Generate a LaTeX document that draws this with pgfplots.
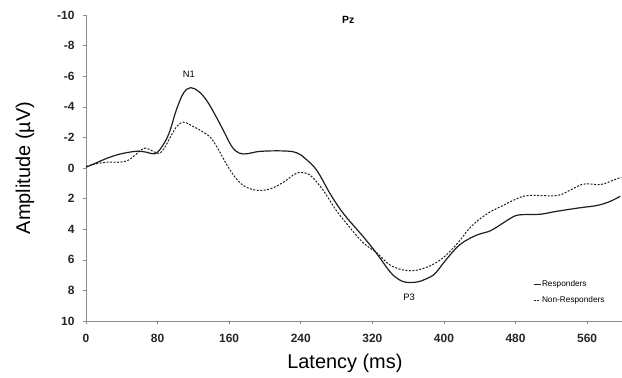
\documentclass[border=0pt]{standalone}
\usepackage{pgfplots}
\pgfplotsset{compat=1.18}
\usepackage{fontspec}
\setmainfont{Liberation Sans}
\definecolor{axisgray}{RGB}{140,140,140}
\definecolor{curve}{RGB}{30,30,30}
\begin{document}
\begin{tikzpicture}
\useasboundingbox (-86bp,-57bp) rectangle (536bp,321bp);
\begin{axis}[
  at={(0,0)}, anchor=south west,
  scale only axis, width=536bp, height=306bp,
  xmin=0, xmax=599, ymin=-10, ymax=10,
  y dir=reverse,
  axis x line*=bottom, axis y line*=left,
  axis line style={draw=axisgray, line width=0.8bp, -},
  xtick={0,80,...,560}, ytick={-10,-8,...,10},
  tick style={draw=axisgray, line width=0.6bp},
  tick align=outside, major tick length=3bp,
  /pgf/number format/assume math mode=true,
  ticklabel style={font=\fontsize{12}{14}\selectfont\bfseries, text=black!85},
  xticklabel style={anchor=center, yshift=-14bp},
  yticklabel style={anchor=east, xshift=-5bp},
  every axis x label/.style={at={(axis description cs:0.483,0)}, yshift=-42bp, anchor=center, font=\fontsize{20}{24}\selectfont},
  every axis y label/.style={at={(axis description cs:0,0.5)}, xshift=-61bp, rotate=90, anchor=center, font=\fontsize{20}{24}\selectfont},
  xlabel={Latency (ms)}, ylabel={Amplitude (µV)},
  legend style={draw=none, fill=none, at={(axis description cs:0.834,0.134)}, anchor=north west,
    font=\fontsize{8.3}{9}\selectfont, inner sep=0pt, row sep=7bp,
    nodes={inner sep=0.6bp}},
  legend cell align=left,
  legend image code/.code={\draw[#1] (0bp,0bp) -- (7bp,0bp);},
]
\addplot[curve, line width=1.2bp, smooth, tension=0.6] coordinates {
(0,-0.05) (12,-0.35) (24,-0.65) (36,-0.88) (48,-1.03) (58,-1.1) (68,-1.03) (77,-0.93)
(85,-1.4) (93,-2.3) (101,-3.8) (109,-4.9) (117,-5.25) (126,-5.0) (135,-4.4) (145,-3.4)
(154,-2.4) (163,-1.4) (171,-0.98) (180,-0.93) (192,-1.07) (208,-1.12) (226,-1.1) (236,-0.98)
(245,-0.62) (258,0.16) (273,1.7) (288,3.0) (310,4.5) (325,5.6) (340,6.8) (350,7.3)
(358,7.47) (370,7.45) (380,7.25) (390,6.9) (403,5.95) (418,5.0) (436,4.4) (452,4.1)
(466,3.6) (480,3.12) (493,3.04) (508,3.02) (526,2.83) (552,2.6) (571,2.45) (585,2.2) (597,1.85)
};
\addlegendentry{Responders}
\addplot[curve, line width=1.0bp, dash pattern=on 2bp off 1.5bp, smooth, tension=0.6] coordinates {
(0,-0.1) (12,-0.28) (24,-0.38) (38,-0.38) (47,-0.5) (55,-0.85) (62,-1.2) (67,-1.3)
(74,-1.12) (82,-0.95) (88,-1.35) (95,-2.1) (102,-2.75) (109,-3.0) (117,-2.8) (128,-2.45)
(139,-2.0) (148,-1.2) (157,-0.25) (166,0.55) (176,1.15) (190,1.45) (205,1.38) (220,0.95)
(234,0.38) (243,0.3) (252,0.55) (265,1.45) (280,2.8) (295,3.9) (310,4.9) (325,5.55)
(340,6.35) (358,6.7) (375,6.6) (395,6.05) (414,5.0) (430,3.85) (448,3.0) (466,2.45)
(480,2.05) (494,1.8) (526,1.8) (541,1.45) (556,1.05) (575,1.08) (590,0.78) (598,0.6)
};
\addlegendentry{Non-Responders}
\node[font=\fontsize{10.5}{12}\selectfont\bfseries] at (axis cs:293,-9.7) {Pz};
\node[font=\fontsize{9.4}{11}\selectfont] at (axis cs:115,-6.15) {N1};
\node[font=\fontsize{9.4}{11}\selectfont] at (axis cs:361,8.45) {P3};
\end{axis}
\end{tikzpicture}
\end{document}
